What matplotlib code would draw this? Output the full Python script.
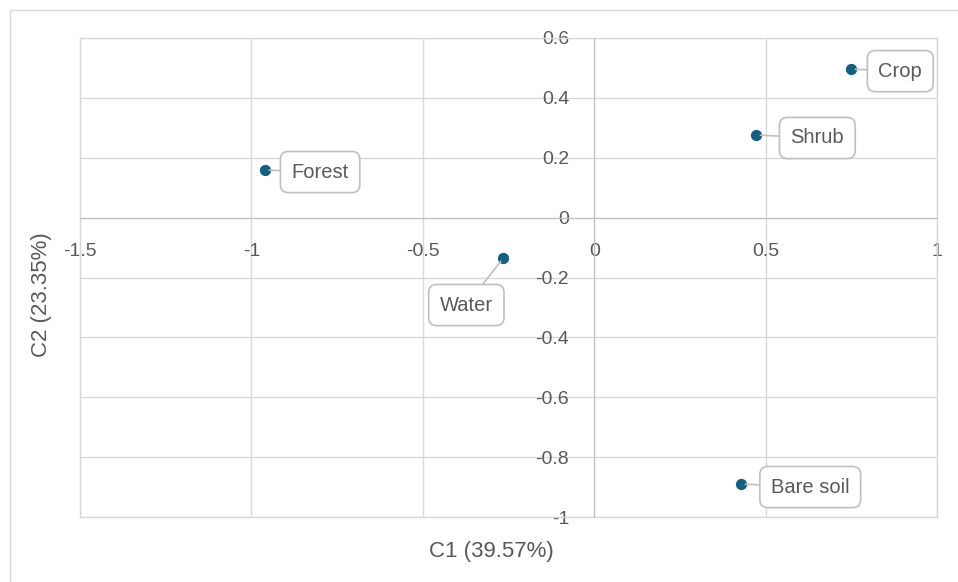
import matplotlib.pyplot as plt
from matplotlib.patches import Rectangle

plt.rcParams['font.family'] = ['Liberation Sans', 'DejaVu Sans']

names = ['Forest', 'Water', 'Crop', 'Shrub', 'Bare soil']
c1 = [-0.96, -0.265, 0.75, 0.473, 0.429]
c2 = [0.159, -0.135, 0.496, 0.276, -0.89]
# label offsets in pixels (box centre relative to the point)
offs = [(55, -2), (-37, -47), (49, -2), (61, -3), (69, -3)]

xticks = [-1.5, -1, -0.5, 0, 0.5, 1]
yticks = [-1, -0.8, -0.6, -0.4, -0.2, 0, 0.2, 0.4, 0.6]

grey = '#595959'
gridc = '#d9d9d9'

fig = plt.figure(figsize=(9.58, 5.82), dpi=100)
fig.patches.append(Rectangle((10 / 958, -0.1), 1.0, 1 - 10 / 582 + 0.1,
                             transform=fig.transFigure, fill=False,
                             edgecolor='#d9d9d9', linewidth=1))
ax = fig.add_axes([80 / 958, 1 - 517 / 582, (937 - 80) / 958, (517 - 38) / 582])

ax.set_xlim(-1.5, 1)
ax.set_ylim(-1, 0.6)
ax.set_xticks(xticks)
ax.set_yticks(yticks)
ax.set_xticklabels(['-1.5', '-1', '-0.5', '0', '0.5', '1'])
ax.set_yticklabels(['-1', '-0.8', '-0.6', '-0.4', '-0.2', '0', '0.2', '0.4', '0.6'])
ax.grid(True, color=gridc, linewidth=1)
ax.set_axisbelow(True)

for s in ['top', 'right']:
    ax.spines[s].set_visible(False)
ax.spines['left'].set_position(('data', 0))
ax.spines['bottom'].set_position(('data', 0))
ax.spines['left'].set_color('#bfbfbf')
ax.spines['bottom'].set_color('#bfbfbf')
ax.tick_params(length=0, labelsize=14, labelcolor=grey)
ax.tick_params(axis='x', pad=18)
ax.tick_params(axis='y', pad=18)

# outer border of the plot area
for v in [-1.5, 1]:
    ax.axvline(v, color=gridc, linewidth=1, clip_on=False)
for v in [-1, 0.6]:
    ax.axhline(v, color=gridc, linewidth=1, clip_on=False)

ax.scatter(c1, c2, s=80, color='#156082', edgecolor='white', linewidth=0.8, zorder=5)

for n, x, y, (dx, dy) in zip(names, c1, c2, offs):
    ax.annotate(n, (x, y), xytext=(dx, dy), textcoords='offset pixels',
                ha='center', va='center', fontsize=14.5, color=grey, zorder=6,
                bbox=dict(boxstyle='round,pad=0.55,rounding_size=0.4',
                          fc='white', ec='#bfbfbf', lw=1.2),
                arrowprops=dict(arrowstyle='-', color='#bfbfbf', lw=1.2,
                                shrinkA=0, shrinkB=3))

fig.text(491 / 958, 1 - 552 / 582, 'C1 (39.57%)', ha='center', va='center',
         fontsize=16, color=grey)
fig.text(42 / 958, 1 - 295 / 582, 'C2 (23.35%)', ha='center', va='center',
         fontsize=16, color=grey, rotation=90)

fig.savefig('out.png', dpi=100, facecolor='white')
